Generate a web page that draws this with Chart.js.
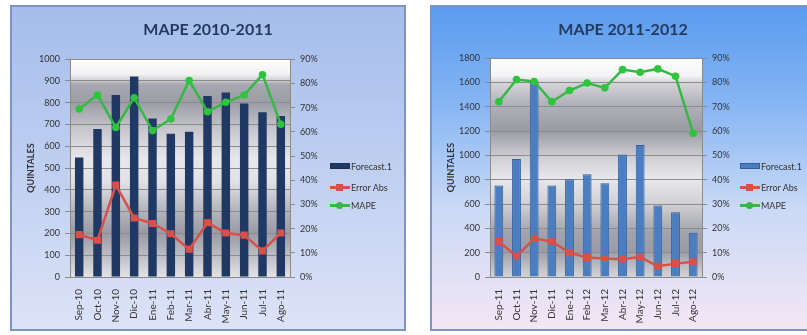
<!DOCTYPE html>
<html>
<head>
<meta charset="utf-8">
<script src="https://cdn.jsdelivr.net/npm/chart.js@4/dist/chart.umd.min.js"></script>
<style>
  html, body { margin: 0; padding: 0; }
  body { width: 807px; height: 335px; overflow: hidden; background: #ffffff; position: relative; font-family: Lato, "Liberation Sans", sans-serif; }
  .box { position: absolute; box-sizing: border-box; border: 2px solid #7f95bf; }
  .box canvas { position: absolute; left: 0; top: 0; }
  #box1 { left: 10px; top: 5px; width: 396px; height: 326px;
          background: linear-gradient(to bottom, #a5bdec 0%, #bccdf0 45%, #dde3f7 100%); }
  #box2 { left: 430px; top: 5px; width: 386px; height: 326px;
          background: linear-gradient(to bottom, #5a9bef 0%, #86b5f3 30%, #c9d9f6 62%, #f4e6f5 100%); }
  .legend { position: absolute; font-size: 9px; color: #333; }
  .item { position: absolute; left: 0; height: 12px; display: flex; align-items: center; white-space: nowrap; }
  .sw { position: relative; width: 20px; height: 12px; margin-right: 1px; flex: none; }
  .sw .bar { position: absolute; left: 0; top: 3px; width: 20px; height: 6px; box-sizing: border-box; }
  .sw .ln { position: absolute; left: 0; top: 5px; width: 20px; height: 2.5px; }
  .sw .mk { position: absolute; left: 6px; top: 2.5px; width: 7px; height: 7px; }
</style>
</head>
<body>
<div class="box" id="box1"><canvas id="c1" width="392" height="322"></canvas></div>
<div class="box" id="box2"><canvas id="c2" width="382" height="322"></canvas></div>
<div class="legend" id="lg1" style="left:330px; top:0px;"></div>
<div class="legend" id="lg2" style="left:740px; top:0px;"></div>
<script>
// ---- data ----
const seriesNames = ['Forecast.1', 'Error Abs', 'MAPE'];

const months1 = ['Sep-10','Oct-10','Nov-10','Dic-10','Ene-11','Feb-11','Mar-11','Abr-11','May-11','Jun-11','Jul-11','Ago-11'];
const forecast1 = [549, 679, 836, 920, 728, 658, 667, 831, 847, 797, 756, 739];
const errorAbs1 = [17.5, 15.2, 38.0, 24.4, 22.1, 17.9, 11.5, 22.4, 18.2, 17.3, 10.8, 18.2];
const mape1 = [69.4, 75.2, 61.8, 74.1, 60.5, 65.3, 81.2, 68.3, 72.2, 75.2, 83.6, 63.1];

const months2 = ['Sep-11','Oct-11','Nov-11','Dic-11','Ene-12','Feb-12','Mar-12','Abr-12','May-12','Jun-12','Jul-12','Ago-12'];
const forecast2 = [753, 970, 1610, 753, 805, 846, 772, 1008, 1085, 588, 533, 365];
const errorAbs2 = [14.6, 8.5, 15.8, 14.6, 10.0, 8.0, 7.6, 7.3, 8.2, 4.4, 5.5, 6.3];
const mape2 = [72.1, 81.2, 80.4, 72.1, 76.7, 79.8, 77.8, 85.3, 84.2, 85.6, 82.6, 59.1];

const title1 = 'MAPE 2010-2011';
const title2 = 'MAPE 2011-2012';
const axisTitle = 'QUINTALES';
const pctTicks = [0, 10, 20, 30, 40, 50, 60, 70, 80, 90];

// ---- styling ----
const FONT = 'Lato, "Liberation Sans", sans-serif';
const RED = '#d9504a';
const GREEN = '#36b846';

// silver plot-area fill, stops as [offset, colour]
const silver1 = [[0,'#fdfdfd'],[0.07,'#f1f1f3'],[0.095,'#d2d2d6'],[0.115,'#a8a8b0'],[0.2,'#9c9ca6'],
                 [0.32,'#c6c6cc'],[0.46,'#e8e8ec'],[0.56,'#e2e2e6'],[0.68,'#b8b8c0'],[0.8,'#9a9aa4'],
                 [0.9,'#bcbcc4'],[1,'#e2e2e6']];
const silver2 = [[0,'#fdfdfd'],[0.08,'#f4f4f6'],[0.11,'#d6d6da'],[0.2,'#b4b4bc'],[0.33,'#9a9aa4'],
                 [0.45,'#cdcdd2'],[0.55,'#e8e8ec'],[0.66,'#d2d2d6'],[0.8,'#a2a2ac'],[0.88,'#9c9ca6'],
                 [1,'#d4d4d8']];

const plotFill = {
  id: 'plotFill',
  beforeDraw(chart, args, opts) {
    const {ctx, chartArea: a} = chart;
    const g = ctx.createLinearGradient(0, a.top, 0, a.bottom);
    opts.stops.forEach(([o, c]) => g.addColorStop(o, c));
    ctx.save();
    ctx.fillStyle = g;
    ctx.fillRect(a.left, a.top, a.right - a.left, a.bottom - a.top);
    ctx.restore();
  }
};

function makeChart(id, cfg) {
  const W = document.getElementById(id).width;
  return new Chart(document.getElementById(id), {
    type: 'bar',
    data: {
      labels: cfg.labels,
      datasets: [
        { type: 'bar', label: seriesNames[0], data: cfg.forecast, yAxisID: 'y', order: 3,
          backgroundColor: cfg.barColor, borderColor: cfg.barBorder, borderWidth: cfg.barBorderWidth,
          categoryPercentage: 1, barPercentage: cfg.barPct },
        { type: 'line', label: seriesNames[1], data: cfg.errorAbs, yAxisID: 'y1', order: 2,
          borderColor: RED, backgroundColor: RED, borderWidth: 2.5, tension: 0,
          pointStyle: 'rect', pointRadius: 5, pointBorderWidth: 0, pointBackgroundColor: RED },
        { type: 'line', label: seriesNames[2], data: cfg.mape, yAxisID: 'y1', order: 1,
          borderColor: GREEN, backgroundColor: GREEN, borderWidth: 2.5, tension: 0,
          pointStyle: 'circle', pointRadius: 3.8, pointBorderWidth: 0, pointBackgroundColor: '#2ec43e' }
      ]
    },
    options: {
      responsive: false,
      animation: false,
      devicePixelRatio: 1,
      layout: { padding: 0 },
      plugins: {
        legend: { display: false },
        tooltip: { enabled: false },
        title: { display: true, text: cfg.title, color: '#243a5e',
                 font: { family: FONT, size: 16, weight: 'bold' },
                 padding: { top: 13, bottom: cfg.titleBottom } },
        plotFill: { stops: cfg.silver }
      },
      scales: {
        x: {
          offset: true,
          grid: { display: false },
          border: { display: true, color: '#8a8a8a', width: 1 },
          ticks: { color: '#333', font: { family: FONT, size: 10 }, minRotation: 90, maxRotation: 90, padding: 4, autoSkip: false },
          afterFit(s) { s.height = 52; }
        },
        y: {
          position: 'left', min: 0, max: cfg.yMax,
          ticks: { stepSize: cfg.yStep, color: '#333', font: { family: FONT, size: 9 }, padding: 5,
                   callback: v => String(v) },
          grid: { color: '#8c8c8c', lineWidth: 1, tickLength: 5, tickColor: '#8a8a8a' },
          border: { display: true, color: '#8a8a8a', width: 1 },
          title: { display: true, text: axisTitle, color: '#333', font: { family: FONT, size: 9, weight: 'bold' },
                   padding: { top: 14, bottom: 0 } },
          afterFit(s) { s.width = 58; }
        },
        y1: {
          position: 'right', min: 0, max: 90,
          afterBuildTicks(s) { s.ticks = pctTicks.map(v => ({ value: v })); },
          ticks: { color: '#333', font: { family: FONT, size: 9 }, padding: 5, callback: v => v + '%' },
          grid: { drawOnChartArea: false, tickLength: 5, tickColor: '#8a8a8a' },
          border: { display: true, color: '#8a8a8a', width: 1 },
          afterFit(s) { s.width = W - cfg.plotRight; }
        }
      }
    },
    plugins: [plotFill]
  });
}

makeChart('c1', {
  labels: months1, forecast: forecast1, errorAbs: errorAbs1, mape: mape1, title: title1,
  yMax: 1000, yStep: 100, barColor: '#1f3864', barBorder: '#1a2f55', barBorderWidth: 0, barPct: 0.46,
  silver: silver1, plotRight: 278, titleBottom: 20
});
makeChart('c2', {
  labels: months2, forecast: forecast2, errorAbs: errorAbs2, mape: mape2, title: title2,
  yMax: 1800, yStep: 200, barColor: '#4a7ec0', barBorder: '#2f5f9e', barBorderWidth: 1, barPct: 0.5,
  silver: silver2, plotRight: 270, titleBottom: 19
});

// ---- legends ----
function buildLegend(id, barColor, barBorder, rows) {
  const lg = document.getElementById(id);
  const swatches = [
    `<span class="bar" style="background:${barColor};border:1px solid ${barBorder}"></span>`,
    `<span class="ln" style="background:${RED}"></span><span class="mk" style="background:${RED}"></span>`,
    `<span class="ln" style="background:${GREEN}"></span><span class="mk" style="background:${GREEN};border-radius:50%"></span>`
  ];
  seriesNames.forEach((name, i) => {
    const it = document.createElement('div');
    it.className = 'item';
    it.style.top = (rows[i] - 6) + 'px';
    it.innerHTML = `<span class="sw">${swatches[i]}</span><span>${name}</span>`;
    lg.appendChild(it);
  });
}
buildLegend('lg1', '#1f3864', '#1a2f55', [166, 187, 205]);
buildLegend('lg2', '#4a7ec0', '#2f5f9e', [166, 187, 205]);
</script>
</body>
</html>
